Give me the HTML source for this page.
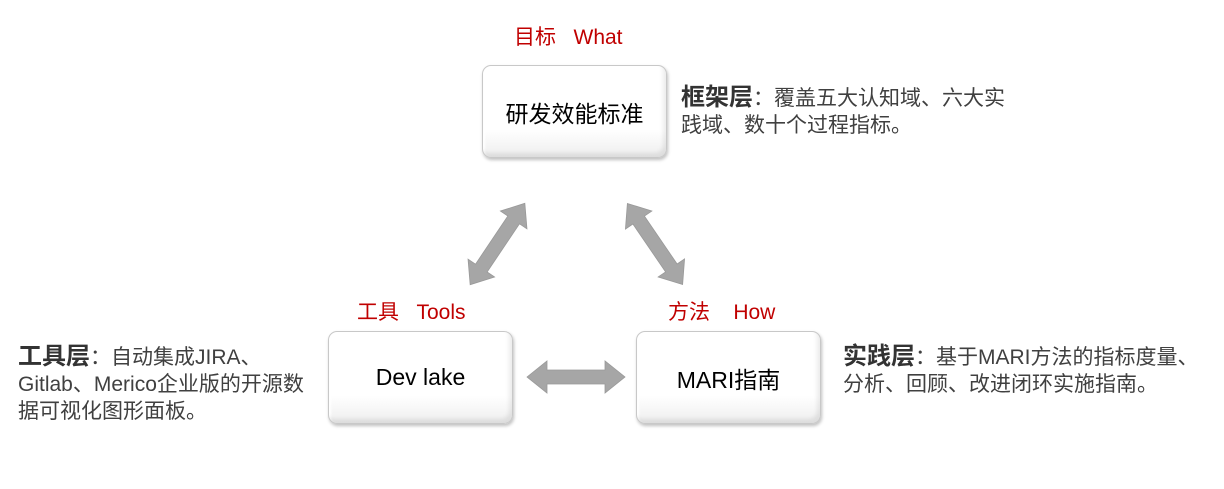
<!DOCTYPE html>
<html><head><meta charset="utf-8"><style>
body{margin:0;width:1224px;height:489px;background:#fff;position:relative;overflow:hidden;font-family:"Liberation Sans","Noto Sans CJK SC",sans-serif}
.box{position:absolute;width:183px;height:91px;border:1px solid #c8c8c8;border-radius:9px;background:linear-gradient(#fff 0%,#fff 70%,#eeeeee 100%);box-shadow:inset -3px -4px 4px rgba(0,0,0,0.08),inset 2px 2px 2px rgba(255,255,255,1),1px 2px 3px rgba(0,0,0,0.25);display:flex;align-items:center;justify-content:center;font-size:23px;color:#000}
.lab{position:absolute;color:#c00000;font-size:21px;white-space:pre}
.desc{position:absolute;color:#404040;font-size:21px;line-height:27px;white-space:nowrap}
.desc b{font-size:24px;color:#333}
</style></head><body>
<div class="lab" style="left:514px;top:21px">目标   What</div>
<div class="lab" style="left:357px;top:296px">工具   Tools</div>
<div class="lab" style="left:668px;top:296px">方法    How</div>
<div class="box" style="left:482px;top:65px">研发效能标准</div>
<div class="box" style="left:328px;top:331px">Dev lake</div>
<div class="box" style="left:636px;top:331px">MARI指南</div>
<div class="desc" style="left:681px;top:84px"><b>框架层</b>：覆盖五大认知域、六大实<br>践域、数十个过程指标。</div>
<div class="desc" style="left:18px;top:343px"><b>工具层</b>：自动集成JIRA、<br>Gitlab、Merico企业版的开源数<br>据可视化图形面板。</div>
<div class="desc" style="left:843px;top:343px"><b>实践层</b>：基于MARI方法的指标度量、<br>分析、回顾、改进闭环实施指南。</div>
<svg width="1224" height="489" style="position:absolute;left:0;top:0">
<defs><polygon id="da" points="-49,0 -29,-16 -29,-7 29,-7 29,-16 49,0 29,16 29,7 -29,7 -29,16" fill="#a6a6a6" stroke="#999" stroke-width="0.8"/></defs>
<use href="#da" transform="translate(497.5,244) rotate(123.9)"/>
<use href="#da" transform="translate(655,244) rotate(55.7)"/>
<use href="#da" transform="translate(576,377)"/>
</svg>
</body></html>
